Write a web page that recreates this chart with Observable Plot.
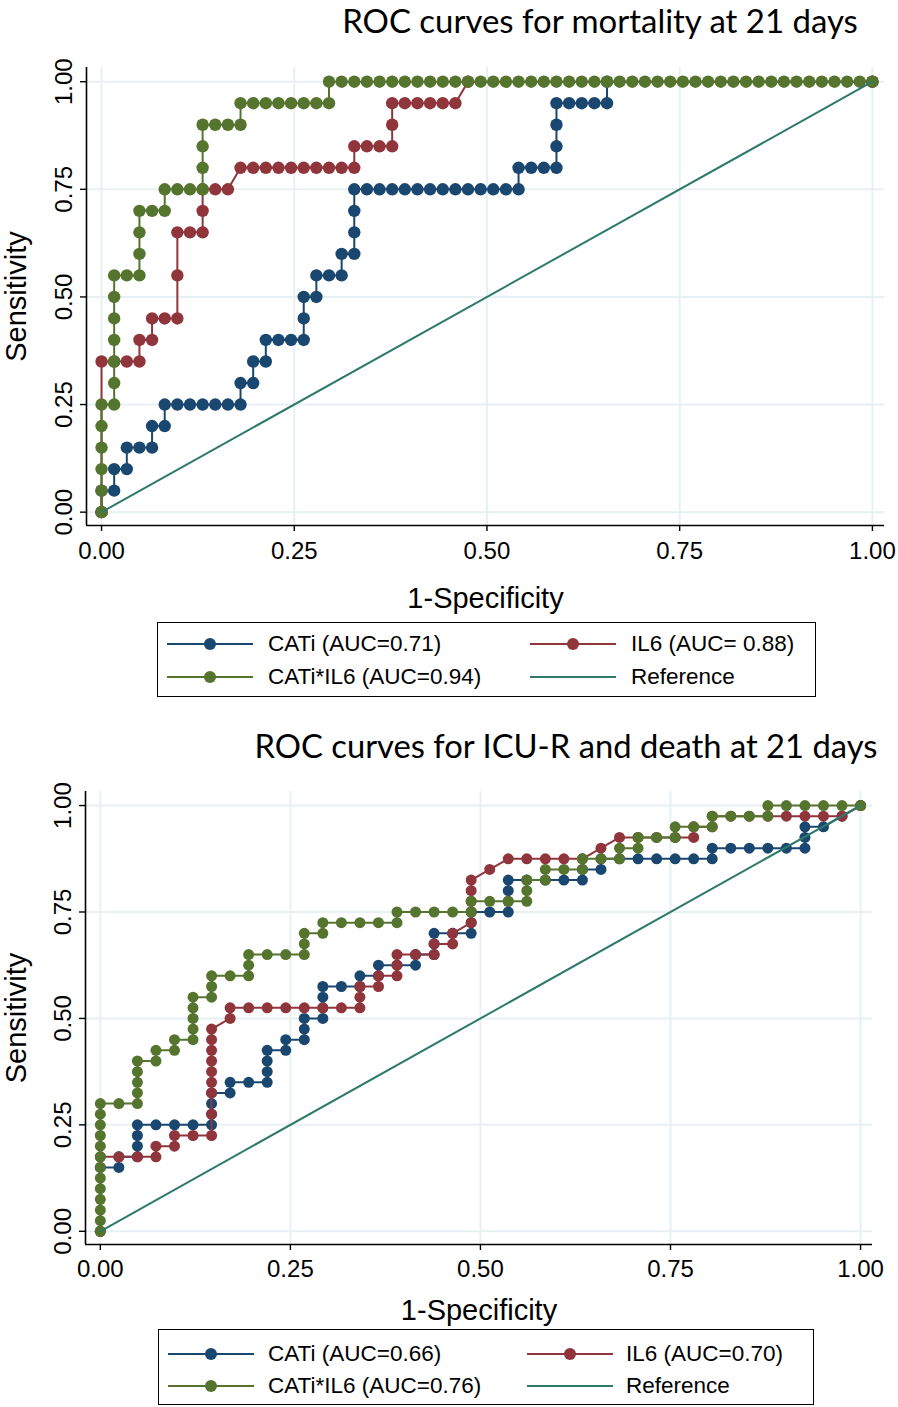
<!DOCTYPE html>
<html>
<head>
<meta charset="utf-8">
<script src="https://cdn.jsdelivr.net/npm/d3@7"></script>
<script src="https://cdn.jsdelivr.net/npm/@observablehq/plot@0.6"></script>
<style>
  body { margin: 0; background: #fff; }
  #wrap { position: relative; width: 898px; height: 1407px; overflow: hidden; background: #fff;
          font-family: "Liberation Sans", Arial, sans-serif; color: #000; }
  .title { position: absolute; white-space: nowrap; font-family: Lato, "Open Sans", sans-serif;
           font-size: 30px; line-height: 1; color: #000; transform: translateX(-50%); }
  .plotbox { position: absolute; left: 0; }
  .legend { position: absolute; border: 1.5px solid #000; box-sizing: border-box; background: #fff; }
  .item { position: absolute; height: 0; }
  .item svg { position: absolute; top: -8px; }
  .item span { position: absolute; top: -13px; white-space: nowrap; font-size: 22.5px; line-height: 26px; }
</style>
</head>
<body>
<div id="wrap"></div>
<script>
// ---------------- data ----------------
// Each ROC curve: [false-positive count, true-positive count] at every cut-off.
const titleTop = "ROC curves for mortality at 21 days";
const titleBottom = "ROC curves for ICU-R and death at 21 days";
const xAxisLabel = "1-Specificity";
const yAxisLabel = "Sensitivity";
const axisTicks = [0, 0.25, 0.5, 0.75, 1];

const nNegTop = 61, nPosTop = 20;
const catiTop = [[0,0],[0,1],[1,1],[1,2],[2,2],[2,3],[3,3],[4,3],[4,4],[5,4],[5,5],[6,5],[7,5],[8,5],[9,5],[10,5],[11,5],[11,6],[12,6],[12,7],[13,7],[13,8],[14,8],[15,8],[16,8],[16,9],[16,10],[17,10],[17,11],[18,11],[19,11],[19,12],[20,12],[20,13],[20,14],[20,15],[21,15],[22,15],[23,15],[24,15],[25,15],[26,15],[27,15],[28,15],[29,15],[30,15],[31,15],[32,15],[33,15],[33,16],[34,16],[35,16],[36,16],[36,17],[36,18],[36,19],[37,19],[38,19],[39,19],[40,19],[40,20],[61,20]];
const il6Top = [[0,0],[0,7],[1,7],[2,7],[3,7],[3,8],[4,8],[4,9],[5,9],[6,9],[6,11],[6,13],[7,13],[8,13],[8,14],[8,15],[9,15],[10,15],[11,16],[12,16],[13,16],[14,16],[15,16],[16,16],[17,16],[18,16],[19,16],[20,16],[20,17],[21,17],[22,17],[23,17],[23,18],[23,19],[24,19],[25,19],[26,19],[27,19],[28,19],[29,20],[61,20]];
const comboTop = [[0,0],[0,1],[0,2],[0,3],[0,4],[0,5],[1,5],[1,6],[1,7],[1,8],[1,9],[1,10],[1,11],[2,11],[3,11],[3,12],[3,13],[3,14],[4,14],[5,14],[5,15],[6,15],[7,15],[8,15],[8,16],[8,17],[8,18],[9,18],[10,18],[11,18],[11,19],[12,19],[13,19],[14,19],[15,19],[16,19],[17,19],[18,19],[18,20],[19,20],[20,20],[21,20],[22,20],[23,20],[24,20],[25,20],[26,20],[27,20],[28,20],[29,20],[30,20],[31,20],[32,20],[33,20],[34,20],[35,20],[36,20],[37,20],[38,20],[39,20],[40,20],[41,20],[42,20],[43,20],[44,20],[45,20],[46,20],[47,20],[48,20],[49,20],[50,20],[51,20],[52,20],[53,20],[54,20],[55,20],[56,20],[57,20],[58,20],[59,20],[60,20],[61,20]];
const legendTop = ["CATi (AUC=0.71)", "IL6 (AUC= 0.88)", "CATi*IL6 (AUC=0.94)", "Reference"];

const nNegBottom = 41, nPosBottom = 40;
const catiBottom = [[0,0],[0,6],[1,6],[1,7],[2,7],[2,8],[2,9],[2,10],[3,10],[4,10],[5,10],[6,10],[6,11],[6,12],[6,13],[7,13],[7,14],[8,14],[9,14],[9,15],[9,16],[9,17],[10,17],[10,18],[11,18],[11,19],[11,20],[12,20],[12,21],[12,22],[12,23],[13,23],[14,23],[14,24],[15,24],[15,25],[16,25],[17,25],[17,26],[18,26],[18,27],[18,28],[19,28],[20,28],[20,29],[20,30],[21,30],[22,30],[22,31],[22,32],[22,33],[23,33],[24,33],[25,33],[26,33],[26,34],[27,34],[27,35],[28,35],[29,35],[30,35],[31,35],[32,35],[33,35],[33,36],[34,36],[35,36],[36,36],[37,36],[38,36],[38,37],[38,38],[39,38],[40,39],[41,40]];
const il6Bottom = [[0,0],[0,7],[1,7],[2,7],[3,7],[3,8],[4,8],[4,9],[5,9],[6,9],[6,11],[6,13],[6,14],[6,15],[6,16],[6,17],[6,18],[6,19],[7,20],[7,21],[8,21],[9,21],[10,21],[11,21],[12,21],[13,21],[14,21],[14,22],[14,23],[15,23],[15,24],[16,24],[16,25],[16,26],[17,26],[18,26],[18,27],[19,27],[19,28],[20,29],[20,30],[20,31],[20,32],[20,33],[21,34],[22,35],[23,35],[24,35],[25,35],[26,35],[27,36],[28,37],[29,37],[30,37],[31,37],[32,37],[32,38],[33,38],[33,39],[34,39],[35,39],[36,39],[37,39],[38,39],[39,39],[40,39],[41,40]];
const comboBottom = [[0,0],[0,1],[0,2],[0,3],[0,4],[0,5],[0,6],[0,7],[0,8],[0,9],[0,10],[0,11],[0,12],[1,12],[2,12],[2,13],[2,14],[2,15],[2,16],[3,16],[3,17],[4,17],[4,18],[5,18],[5,19],[5,20],[5,21],[5,22],[6,22],[6,23],[6,24],[7,24],[8,24],[8,25],[8,26],[9,26],[10,26],[11,26],[11,27],[11,28],[12,28],[12,29],[13,29],[14,29],[15,29],[16,29],[16,30],[17,30],[18,30],[19,30],[20,30],[20,31],[21,31],[22,31],[23,31],[23,32],[23,33],[24,33],[24,34],[25,34],[26,34],[26,35],[27,35],[28,35],[28,36],[29,36],[29,37],[30,37],[31,37],[31,38],[32,38],[33,38],[33,39],[34,39],[35,39],[36,39],[36,40],[37,40],[38,40],[39,40],[40,40],[41,40]];
const legendBottom = ["CATi (AUC=0.66)", "IL6 (AUC=0.70)", "CATi*IL6 (AUC=0.76)", "Reference"];

const referenceFpr = [0, 1];
const referenceTpr = [0, 1];

// ---------------- styles ----------------
const colors = ["#1a476f", "#90353b", "#55752f", "#2e7a6a"];
const gridColor = "#e8f0f3";
const xDomain = [-0.0195, 1.0157];
const yDomain = [-0.031, 1.033];
const fmt = d3.format(".2f");

const wrap = document.getElementById("wrap");

function panel(cfg) {
  const rows = (pts, nNeg, nPos) => pts.map(([i, j]) => ({fpr: i / nNeg, tpr: j / nPos}));
  const ref = referenceFpr.map((v, k) => ({fpr: v, tpr: referenceTpr[k]}));
  const curveMarks = [];
  cfg.curves.forEach((pts, k) => {
    const data = rows(pts, cfg.nNeg, cfg.nPos);
    curveMarks.push(Plot.line(data, {x: "fpr", y: "tpr", stroke: colors[k], strokeWidth: 2}));
    curveMarks.push(Plot.dot(data, {x: "fpr", y: "tpr", r: cfg.r, fill: colors[k], stroke: "none"}));
  });
  const chart = Plot.plot({
    width: 898,
    height: cfg.height,
    marginTop: cfg.mt, marginBottom: cfg.mb, marginLeft: cfg.ml, marginRight: cfg.mr,
    x: {domain: xDomain},
    y: {domain: yDomain},
    style: {fontFamily: "'Liberation Sans', Arial, sans-serif", background: "transparent", color: "#000", overflow: "visible"},
    marks: [
      Plot.ruleX(axisTicks, {stroke: gridColor, strokeWidth: 2}),
      Plot.ruleY(axisTicks, {stroke: gridColor, strokeWidth: 2}),
      Plot.ruleX([xDomain[0]], {stroke: "#000", strokeWidth: 1.6}),
      Plot.ruleY([yDomain[0]], {stroke: "#000", strokeWidth: 1.6}),
      Plot.axisX({ticks: axisTicks, tickFormat: fmt, tickSize: 6, tickPadding: cfg.padX, fontSize: 24, label: null, strokeWidth: 1.4}),
      Plot.axisY({ticks: axisTicks, tickFormat: fmt, tickSize: 6, tickPadding: cfg.padY, tickRotate: -90, fontSize: 24, label: null, strokeWidth: 1.4}),
      ...curveMarks,
      Plot.line(ref, {x: "fpr", y: "tpr", stroke: colors[3], strokeWidth: 2}),
      Plot.text([xAxisLabel], {text: d => d, frameAnchor: "bottom", lineAnchor: "middle", textAnchor: "middle", dy: cfg.xLabelDy, fontSize: 29}),
      Plot.text([yAxisLabel], {text: d => d, frameAnchor: "left", lineAnchor: "middle", textAnchor: "middle", dx: cfg.yLabelDx, rotate: -90, fontSize: 29})
    ]
  });
  const box = document.createElement("div");
  box.className = "plotbox";
  box.style.top = cfg.top + "px";
  box.appendChild(chart);
  wrap.appendChild(box);
}

function title(text, cx, top, targetWidth) {
  const d = document.createElement("div");
  d.className = "title";
  d.textContent = text;
  d.style.left = cx + "px";
  d.style.top = top + "px";
  wrap.appendChild(d);
  const w = d.getBoundingClientRect().width;
  if (w > 0) d.style.fontSize = (30 * targetWidth / w).toFixed(2) + "px";
}

function legend(labels, L) {
  const box = document.createElement("div");
  box.className = "legend";
  box.style.left = L.left + "px";
  box.style.top = L.top + "px";
  box.style.width = L.width + "px";
  box.style.height = L.height + "px";
  labels.forEach((lab, k) => {
    const col = k % 2, row = Math.floor(k / 2);
    const it = document.createElement("div");
    it.className = "item";
    it.style.left = "0px";
    it.style.top = L.rows[row] + "px";
    const marker = k < 3 ? `<circle cx="43" cy="8" r="6" fill="${colors[k]}"/>` : "";
    it.innerHTML = `<svg width="86" height="16" style="left:${L.sw[col]}px"><line x1="0" x2="86" y1="8" y2="8" stroke="${colors[k]}" stroke-width="2"/>${marker}</svg>` +
      `<span style="left:${L.tx[col]}px">${lab}</span>`;
    box.appendChild(it);
  });
  wrap.appendChild(box);
}

// ---------------- top panel ----------------
title(titleTop, 600, 4, 516);
panel({curves: [catiTop, il6Top, comboTop], nNeg: nNegTop, nPos: nPosTop, r: 6.2,
       top: 55, height: 570, mt: 12, mb: 100, ml: 86, mr: 14, padX: 10, padY: 9, xLabelDy: 73, yLabelDx: -70});
legend(legendTop, {left: 157, top: 622, width: 659, height: 75, rows: [21, 54], sw: [9, 372], tx: [110, 473]});

// ---------------- bottom panel ----------------
title(titleBottom, 566, 730, 623);
panel({curves: [catiBottom, il6Bottom, comboBottom], nNeg: nNegBottom, nPos: nPosBottom, r: 5.5,
       top: 770, height: 555, mt: 21, mb: 81, ml: 85, mr: 26, padX: 9, padY: 9, xLabelDy: 66, yLabelDx: -69});
legend(legendBottom, {left: 158, top: 1329, width: 656, height: 76, rows: [24, 56], sw: [9, 368], tx: [109, 467]});
</script>
</body>
</html>
